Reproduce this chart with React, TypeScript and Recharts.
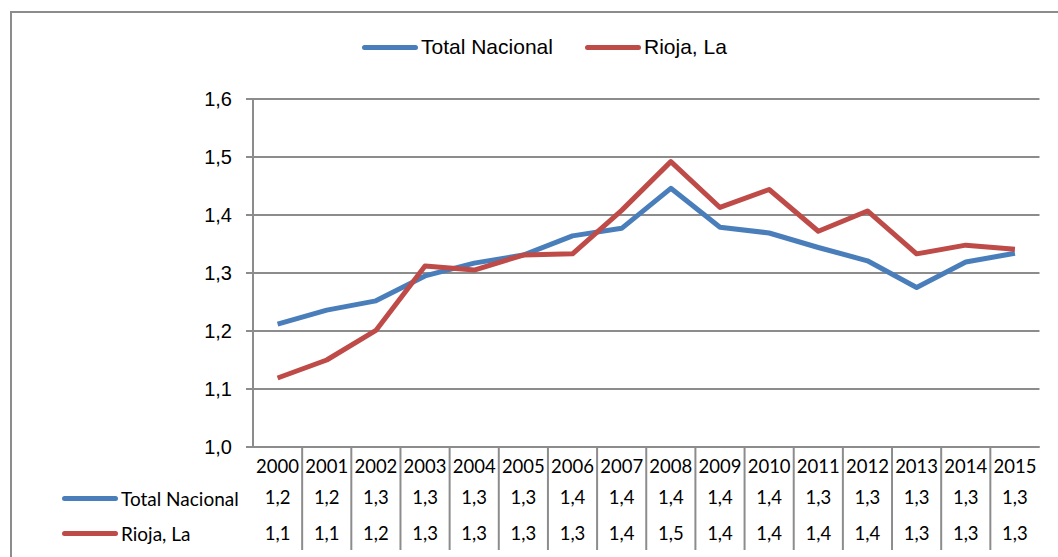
import { LineChart, Line, XAxis, YAxis, CartesianGrid } from 'recharts';

const years = ['2000', '2001', '2002', '2003', '2004', '2005', '2006', '2007', '2008', '2009', '2010', '2011', '2012', '2013', '2014', '2015'];
const totalNacional = [1.212, 1.236, 1.252, 1.295, 1.317, 1.331, 1.364, 1.377, 1.446, 1.379, 1.369, 1.344, 1.321, 1.275, 1.319, 1.334];
const riojaLa = [1.119, 1.15, 1.201, 1.312, 1.305, 1.331, 1.333, 1.408, 1.492, 1.413, 1.444, 1.372, 1.407, 1.333, 1.348, 1.341];
const totalLabels = ['1,2', '1,2', '1,3', '1,3', '1,3', '1,3', '1,4', '1,4', '1,4', '1,4', '1,4', '1,3', '1,3', '1,3', '1,3', '1,3'];
const riojaLabels = ['1,1', '1,1', '1,2', '1,3', '1,3', '1,3', '1,3', '1,4', '1,5', '1,4', '1,4', '1,4', '1,4', '1,3', '1,3', '1,3'];
const yTicks = [1.0, 1.1, 1.2, 1.3, 1.4, 1.5, 1.6];

const BLUE = '#4a7ebb';
const RED = '#be4b48';
const GRID = '#8c8c8c';
const SANS = '"Liberation Sans", Arial, sans-serif';
const TABLE_FONT = 'Lato, "Open Sans", sans-serif';

const WIDTH = 1058;
const HEIGHT = 557;
const PLOT_LEFT = 253;
const PLOT_RIGHT = 1039.5;
const COL = (PLOT_RIGHT - PLOT_LEFT) / years.length;

const data = years.map((year, i) => ({
  year,
  total: totalNacional[i],
  rioja: riojaLa[i],
}));

const TableTick = (props: any) => {
  const { x, y, payload, index } = props;
  const i = index ?? years.indexOf(payload.value);
  return (
    <g>
      <text x={x} y={y + 19} textAnchor="middle" dominantBaseline="central" fontFamily={TABLE_FONT} fontSize={18.5} fill="#000">
        {payload.value}
      </text>
      <text x={x} y={y + 50} textAnchor="middle" dominantBaseline="central" fontFamily={TABLE_FONT} fontSize={18.5} fill="#000">
        {totalLabels[i]}
      </text>
      <text x={x} y={y + 86} textAnchor="middle" dominantBaseline="central" fontFamily={TABLE_FONT} fontSize={18.5} fill="#000">
        {riojaLabels[i]}
      </text>
      {i < years.length - 1 && (
        <line x1={x + COL / 2} x2={x + COL / 2} y1={y} y2={y + 103} stroke={GRID} strokeWidth={2} />
      )}
    </g>
  );
};

const LegendKey = ({ color, label, left, top, font, size }: any) => (
  <div style={{ position: 'absolute', left, top, display: 'flex', alignItems: 'center', height: 24 }}>
    <div style={{ width: 56, height: 5, borderRadius: 3, background: color }} />
    <span style={{ marginLeft: 3, fontFamily: font, fontSize: size, color: '#000', whiteSpace: 'nowrap' }}>{label}</span>
  </div>
);

export default function App() {
  return (
    <div style={{ position: 'absolute', left: 0, top: 0, width: WIDTH, height: HEIGHT, overflow: 'hidden', background: '#fff' }}>
      <div style={{ position: 'absolute', left: 10, top: 11, width: 1100, height: 600, border: `2px solid ${GRID}` }} />
      <div style={{ position: 'absolute', left: 0, top: 0 }}>
        <LineChart width={WIDTH} height={HEIGHT} data={data} margin={{ top: 99, right: WIDTH - PLOT_RIGHT, bottom: 0, left: 0 }}>
          <CartesianGrid vertical={false} stroke={GRID} strokeWidth={2} />
          <YAxis
            width={PLOT_LEFT}
            domain={[1, 1.6]}
            ticks={yTicks}
            interval={0}
            tickFormatter={(v: number) => v.toFixed(1).replace('.', ',')}
            axisLine={{ stroke: GRID, strokeWidth: 2 }}
            tickLine={{ stroke: GRID, strokeWidth: 2 }}
            tickSize={7}
            tickMargin={14}
            tick={{ fontFamily: SANS, fontSize: 20, fill: '#000' }}
          />
          <XAxis
            dataKey="year"
            height={110}
            interval={0}
            padding={{ left: COL / 2, right: COL / 2 }}
            axisLine={{ stroke: GRID, strokeWidth: 2 }}
            tickLine={false}
            tickSize={0}
            tickMargin={0}
            tick={(p: any) => <TableTick {...p} />}
          />
          <Line type="linear" dataKey="total" name="Total Nacional" stroke={BLUE} strokeWidth={5} dot={false} strokeLinejoin="round" isAnimationActive={false} />
          <Line type="linear" dataKey="rioja" name="Rioja, La" stroke={RED} strokeWidth={5} dot={false} strokeLinejoin="round" isAnimationActive={false} />
        </LineChart>
      </div>
      <LegendKey color={BLUE} label="Total Nacional" left={362} top={35} font={SANS} size={21} />
      <LegendKey color={RED} label="Rioja, La" left={585} top={35} font={SANS} size={21} />
      <LegendKey color={BLUE} label="Total Nacional" left={62} top={486} font={TABLE_FONT} size={19} />
      <LegendKey color={RED} label="Rioja, La" left={62} top={521} font={TABLE_FONT} size={19} />
    </div>
  );
}
